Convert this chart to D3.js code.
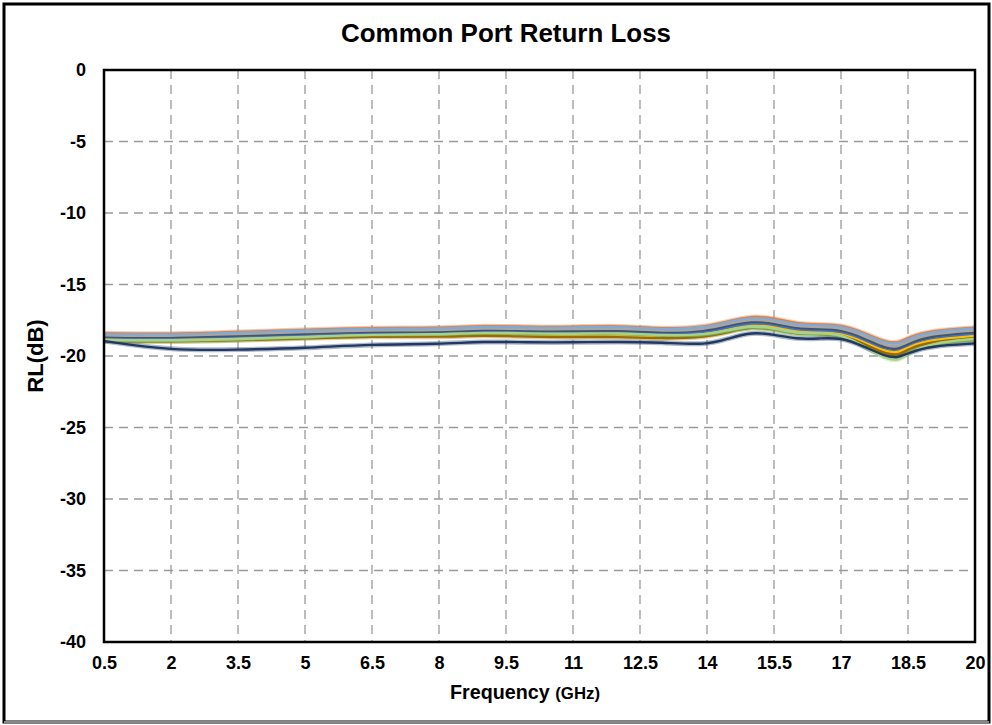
<!DOCTYPE html>
<html>
<head>
<meta charset="utf-8">
<script src="https://cdn.jsdelivr.net/npm/d3@7"></script>
<style>
  html, body { margin: 0; padding: 0; background: #fff; }
  svg { display: block; }
  text { font-family: "Liberation Sans Narrow", "Arial Narrow", "Liberation Sans", Arial, sans-serif; font-weight: bold; fill: #000; }
</style>
</head>
<body>
<div id="chart"></div>
<script>
// ---- Data ----
const title = "Common Port Return Loss";
const xTitle = "Frequency";
const xUnit = "(GHz)";
const yTitle = "RL(dB)";
const xTicks = [0.5, 2, 3.5, 5, 6.5, 8, 9.5, 11, 12.5, 14, 15.5, 17, 18.5, 20];
const yTicks = [0, -5, -10, -15, -20, -25, -30, -35, -40];

const freq = [0.5, 2, 3.5, 5, 6.5, 8, 9, 10, 11, 12, 13, 14, 14.5, 15, 15.5, 16, 16.5, 17, 17.5, 18, 18.3, 18.5, 19, 20];

const sOrange    = [-18.42,-18.47,-18.32,-18.17,-18.02,-18.07,-17.87,-17.97,-17.97,-17.87,-18.12,-17.97,-17.55,-17.2,-17.35,-17.75,-17.8,-17.8,-18.35,-19.05,-19.1,-18.7,-18.22,-18.02];
const sLightBlue = [-18.48,-18.52,-18.37,-18.22,-18.07,-18.12,-17.92,-18.02,-18.02,-17.92,-18.17,-18.02,-17.6,-17.28,-17.43,-17.82,-17.87,-17.87,-18.42,-19.12,-19.17,-18.78,-18.3,-18.08];
const sGray      = [-18.62,-18.66,-18.52,-18.37,-18.22,-18.27,-18.07,-18.17,-18.17,-18.08,-18.32,-18.17,-17.75,-17.42,-17.57,-17.97,-18.02,-18.02,-18.58,-19.3,-19.35,-18.95,-18.45,-18.24];
const sSlate     = [-18.72,-18.78,-18.64,-18.5,-18.35,-18.4,-18.2,-18.3,-18.3,-18.22,-18.45,-18.3,-17.9,-17.58,-17.73,-18.12,-18.15,-18.18,-18.75,-19.5,-19.55,-19.15,-18.6,-18.38];
const sBlue      = [-18.8,-18.86,-18.74,-18.6,-18.45,-18.5,-18.3,-18.4,-18.42,-18.35,-18.55,-18.42,-18.03,-17.7,-17.85,-18.24,-18.26,-18.3,-18.9,-19.65,-19.7,-19.3,-18.75,-18.5];
const sYellow    = [-18.86,-18.92,-18.82,-18.68,-18.52,-18.57,-18.4,-18.5,-18.52,-18.46,-18.65,-18.52,-18.15,-17.82,-17.97,-18.35,-18.36,-18.4,-19.0,-19.72,-19.78,-19.38,-18.85,-18.6];
const sBrown     = [-18.95,-19.0,-18.9,-18.76,-18.62,-18.68,-18.55,-18.65,-18.7,-18.64,-18.8,-18.68,-18.3,-17.95,-18.1,-18.45,-18.45,-18.5,-19.12,-19.88,-19.95,-19.5,-19.0,-18.75];
const sGreen     = [-18.92,-18.97,-18.86,-18.72,-18.52,-18.56,-18.38,-18.47,-18.5,-18.42,-18.62,-18.58,-18.25,-17.95,-18.13,-18.48,-18.45,-18.5,-19.28,-20.12,-20.2,-19.72,-19.15,-18.88];
const sLightGrn  = [-18.88,-18.93,-18.82,-18.68,-18.48,-18.52,-18.34,-18.43,-18.46,-18.38,-18.58,-18.52,-18.17,-17.88,-18.05,-18.42,-18.4,-18.45,-19.3,-20.22,-20.35,-19.8,-19.1,-18.8];
const sNavy      = [-18.95,-19.62,-19.56,-19.45,-19.18,-19.18,-18.98,-19.05,-19.05,-19.0,-19.05,-19.25,-18.75,-18.32,-18.5,-18.82,-18.78,-18.7,-19.3,-20.05,-20.12,-19.78,-19.3,-19.12];

const seriesNames  = ["orange","lightblue","gray","slate","blue","yellow","brown","green","lightgreen","navy"];
const seriesValues = [sOrange, sLightBlue, sGray, sSlate, sBlue, sYellow, sBrown, sGreen, sLightGrn, sNavy];
const seriesColors = ["#ED7D31","#7FA9D6","#A5A5A5","#44546A","#4472C4","#FFC000","#9C6A00","#70AD47","#A9D18E","#203864"];

// ---- Layout ----
const W = 992, H = 725;
const m = { left: 104, right: 17, top: 70, bottom: 83 };
const pw = W - m.left - m.right, ph = H - m.top - m.bottom;
const FONT = '"Liberation Sans Narrow", "Arial Narrow", "Liberation Sans", Arial, sans-serif';

const svg = d3.select("#chart").append("svg").attr("width", W).attr("height", H);

// outer frame
svg.append("rect").attr("x", 4).attr("y", 4).attr("width", W - 7).attr("height", H - 7)
  .attr("fill", "#fff").attr("stroke", "#000").attr("stroke-width", 3);
svg.append("line").attr("x1", 4).attr("x2", W - 3).attr("y1", H - 3).attr("y2", H - 3)
  .attr("stroke", "#888").attr("stroke-width", 2);

const x = d3.scaleLinear().domain([0.5, 20]).range([m.left, m.left + pw]);
const y = d3.scaleLinear().domain([-40, 0]).range([m.top + ph, m.top]);

// grid
const g = svg.append("g");
g.selectAll(".vg").data(xTicks.slice(1, -1)).join("line")
  .attr("x1", d => x(d)).attr("x2", d => x(d))
  .attr("y1", m.top).attr("y2", m.top + ph)
  .attr("stroke", "#9a9a9a").attr("stroke-width", 1.3).attr("stroke-dasharray", "9,6");
g.selectAll(".hg").data(yTicks.slice(1, -1)).join("line")
  .attr("x1", m.left).attr("x2", m.left + pw)
  .attr("y1", d => y(d)).attr("y2", d => y(d))
  .attr("stroke", "#9a9a9a").attr("stroke-width", 1.3).attr("stroke-dasharray", "9,6");

// axes (labels only, via d3 axes)
const xAxis = svg.append("g").attr("transform", `translate(0,${m.top + ph})`)
  .call(d3.axisBottom(x).tickValues(xTicks).tickFormat(d => String(d)).tickSize(0).tickPadding(14));
xAxis.select(".domain").remove();
xAxis.selectAll("text").style("font-size", "18px").style("font-family", FONT).style("font-weight", "bold").attr("fill", "#000");

const yAxis = svg.append("g").attr("transform", `translate(${m.left},0)`)
  .call(d3.axisLeft(y).tickValues(yTicks).tickFormat(d => String(d)).tickSize(0).tickPadding(18));
yAxis.select(".domain").remove();
yAxis.selectAll("text").style("font-size", "18px").style("font-family", FONT).style("font-weight", "bold").attr("fill", "#000");

// lines
const line = d3.line().x((d, i) => x(freq[i])).y(d => y(d)).curve(d3.curveBasis);
const lg = svg.append("g");
lg.selectAll(".halo").data(seriesValues).join("path")
  .attr("d", line).attr("fill", "none")
  .attr("stroke", (d, i) => seriesColors[i]).attr("stroke-opacity", 0.35).attr("stroke-width", 5);
lg.selectAll(".ln").data(seriesValues).join("path")
  .attr("d", line).attr("fill", "none")
  .attr("stroke", (d, i) => seriesColors[i]).attr("stroke-width", 2.4);

// plot border
svg.append("rect").attr("x", m.left).attr("y", m.top).attr("width", pw).attr("height", ph)
  .attr("fill", "none").attr("stroke", "#000").attr("stroke-width", 2.5);

// titles
svg.append("text").attr("x", 506).attr("y", 42).attr("text-anchor", "middle")
  .attr("textLength", 330).attr("lengthAdjust", "spacingAndGlyphs")
  .style("font-size", "25px").text(title);
const xt = svg.append("text").attr("x", 525).attr("y", 699).attr("text-anchor", "middle")
  .attr("textLength", 150).attr("lengthAdjust", "spacingAndGlyphs").style("font-size", "20px");
xt.append("tspan").text(xTitle + " ");
xt.append("tspan").style("font-size", "17px").text(xUnit);
svg.append("text").attr("transform", `translate(43,${y(-20)}) rotate(-90)`).attr("text-anchor", "middle")
  .style("font-size", "22px").text(yTitle);
</script>
</body>
</html>
